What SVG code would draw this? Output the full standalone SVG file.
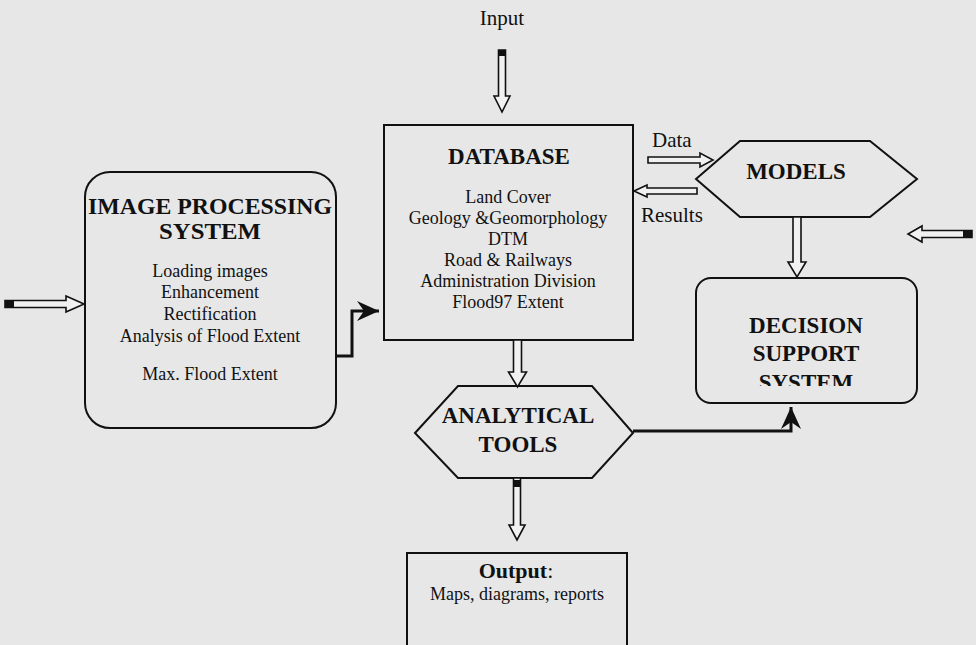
<svg xmlns="http://www.w3.org/2000/svg" width="976" height="645" viewBox="0 0 976 645">
  <style>
    text { font-family: "Liberation Serif", "Times New Roman", serif; fill: #111; }
    .label { font-size: 21px; }
    .title { font-size: 23px; font-weight: bold; text-anchor: middle; }
    .item { font-size: 18px; text-anchor: middle; }
    .box { fill: none; stroke: #111; stroke-width: 2; }
    .hollow { fill: #f1f1f1; stroke: #111; stroke-width: 1.6; stroke-linejoin: miter; }
    .cap { fill: #111; }
    .link { fill: none; stroke: #111; stroke-width: 3; }
  </style>
  <defs>
    <marker id="stealth" viewBox="0 0 22 20" refX="22" refY="10" markerWidth="22" markerHeight="20" markerUnits="userSpaceOnUse" orient="auto">
      <path d="M0,0 L22,10 L0,20 L7,10 Z" fill="#111"/>
    </marker>
    <clipPath id="dssClip">
      <rect x="690" y="270" width="240" height="116"/>
    </clipPath>
  </defs>

  <rect width="976" height="645" fill="#e7e7e7"/>

  <!-- free labels -->
  <text class="label" x="502" y="25" text-anchor="middle">Input</text>
  <text class="label" x="652" y="147">Data</text>
  <text class="label" x="641" y="222">Results</text>

  <g id="image-processing">
    <rect class="box" x="85" y="172" width="251" height="256" rx="25"/>
    <text class="title" x="210" y="214" textLength="244" lengthAdjust="spacingAndGlyphs">IMAGE PROCESSING</text>
    <text class="title" x="210" y="239" textLength="102" lengthAdjust="spacingAndGlyphs">SYSTEM</text>
    <text class="item" x="210" y="277">Loading images</text>
    <text class="item" x="210" y="298">Enhancement</text>
    <text class="item" x="210" y="320">Rectification</text>
    <text class="item" x="210" y="342">Analysis of Flood Extent</text>
    <text class="item" x="210" y="380">Max. Flood Extent</text>
  </g>

  <g id="database">
    <rect class="box" x="384" y="125" width="249" height="215"/>
    <text class="title" x="509" y="164">DATABASE</text>
    <text class="item" x="508" y="203">Land Cover</text>
    <text class="item" x="508" y="224">Geology &amp;Geomorphology</text>
    <text class="item" x="508" y="245">DTM</text>
    <text class="item" x="508" y="266">Road &amp; Railways</text>
    <text class="item" x="508" y="287">Administration Division</text>
    <text class="item" x="508" y="308">Flood97 Extent</text>
  </g>

  <g id="models">
    <polygon class="box" points="696,179 740,141 870,141 917,179 870,217 740,217"/>
    <text class="title" x="796" y="179">MODELS</text>
  </g>

  <g id="decision-support">
    <rect class="box" x="696" y="278" width="221" height="125" rx="15"/>
    <text class="title" x="806" y="333">DECISION</text>
    <text class="title" x="806" y="361">SUPPORT</text>
    <text class="title" x="806" y="390" clip-path="url(#dssClip)">SYSTEM</text>
  </g>

  <g id="analytical-tools">
    <polygon class="box" points="415,433 458,386 592,386 633,433 592,478 458,478"/>
    <text class="title" x="518" y="423">ANALYTICAL</text>
    <text class="title" x="518" y="452">TOOLS</text>
  </g>

  <g id="output">
    <path class="box" d="M407,650 V553 H627 V650"/>
    <text x="516" y="578" text-anchor="middle" style="font-size:22px"><tspan font-weight="bold">Output</tspan>:</text>
    <text class="item" x="517" y="600">Maps, diagrams, reports</text>
  </g>

  <g id="connectors">
    <!-- input into the database -->
    <polygon class="hollow" points="498.5,50 505.5,50 505.5,96 510,96 502,112 494,96 498.5,96"/>
    <rect class="cap" x="498.5" y="50" width="7" height="6"/>
    <!-- imagery into image processing -->
    <polygon class="hollow" points="5,300.5 66,300.5 66,296 84,304 66,312 66,307.5 5,307.5"/>
    <rect class="cap" x="5" y="300.5" width="9" height="7"/>
    <!-- external input into decision support -->
    <polygon class="hollow" points="972,230.5 922,230.5 922,226 908,234 922,242 922,237.5 972,237.5"/>
    <rect class="cap" x="963" y="230.5" width="9" height="7"/>
    <!-- data to models -->
    <polygon class="hollow" points="648,157 700,157 700,153 713,160 700,167 700,163 648,163"/>
    <!-- results back to database -->
    <polygon class="hollow" points="697,188 647,188 647,185 634,191 647,197 647,194 697,194"/>
    <!-- models to decision support -->
    <polygon class="hollow" points="793,217 801,217 801,262 806,262 797,277 788,262 793,262"/>
    <!-- database to analytical tools -->
    <polygon class="hollow" points="513.5,340 521.5,340 521.5,372 526.5,372 517.5,387 508.5,372 513.5,372"/>
    <!-- analytical tools to output -->
    <polygon class="hollow" points="513.5,478 520.5,478 520.5,525 525,525 517,540 509,525 513.5,525"/>
    <rect class="cap" x="513.5" y="480" width="7" height="7"/>
    <!-- image processing to database -->
    <polyline class="link" points="336,356 352,356 352,311 379,311" marker-end="url(#stealth)"/>
    <!-- analytical tools to decision support -->
    <polyline class="link" points="633,431 791,431 791,407" marker-end="url(#stealth)"/>
  </g>
</svg>
